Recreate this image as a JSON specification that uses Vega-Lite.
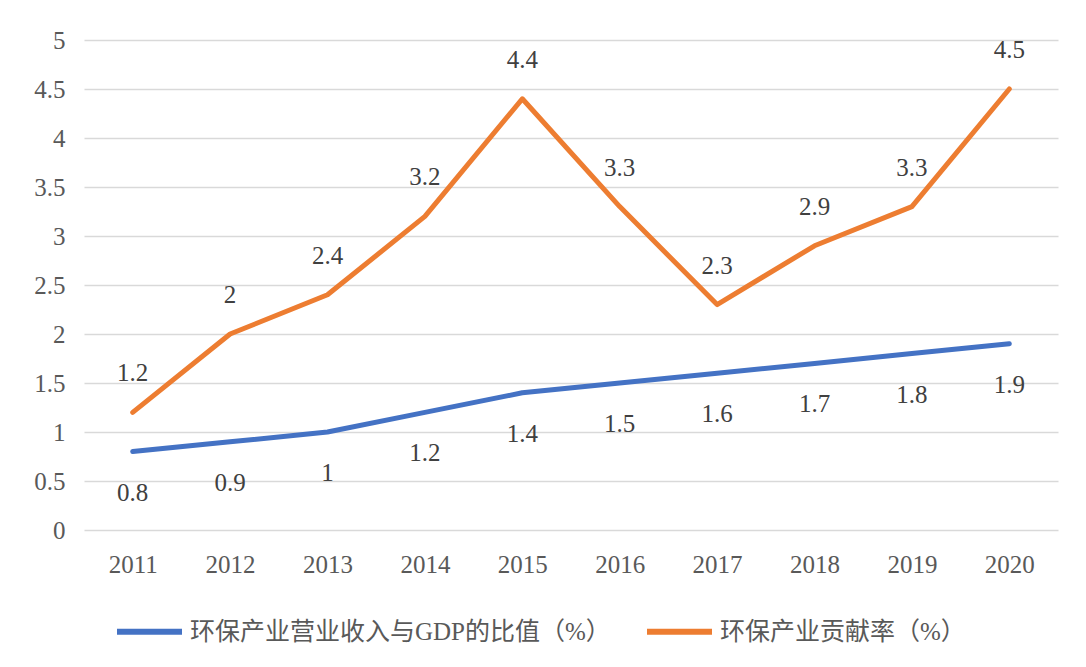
{
  "$schema": "https://vega.github.io/schema/vega-lite/v6.json",
  "width": 974,
  "height": 490,
  "autosize": {"type": "none"},
  "padding": {"left": 84, "top": 40, "right": 28, "bottom": 137},
  "background": "white",
  "config": {
    "view": {"stroke": null},
    "font": "'Liberation Serif', 'Times New Roman', serif",
    "axis": {"labelColor": "#595959", "labelFont": "'Liberation Serif', 'Times New Roman', serif", "labelFontSize": 25, "gridColor": "#D9D9D9", "gridWidth": 1.5, "ticks": false, "domain": false, "title": null}
  },
  "data": {
    "values": [
      {"year": "2011", "series": "环保产业营业收入与GDP的比值（%）", "value": 0.8},
      {"year": "2012", "series": "环保产业营业收入与GDP的比值（%）", "value": 0.9},
      {"year": "2013", "series": "环保产业营业收入与GDP的比值（%）", "value": 1.0},
      {"year": "2014", "series": "环保产业营业收入与GDP的比值（%）", "value": 1.2},
      {"year": "2015", "series": "环保产业营业收入与GDP的比值（%）", "value": 1.4},
      {"year": "2016", "series": "环保产业营业收入与GDP的比值（%）", "value": 1.5},
      {"year": "2017", "series": "环保产业营业收入与GDP的比值（%）", "value": 1.6},
      {"year": "2018", "series": "环保产业营业收入与GDP的比值（%）", "value": 1.7},
      {"year": "2019", "series": "环保产业营业收入与GDP的比值（%）", "value": 1.8},
      {"year": "2020", "series": "环保产业营业收入与GDP的比值（%）", "value": 1.9},
      {"year": "2011", "series": "环保产业贡献率（%）", "value": 1.2},
      {"year": "2012", "series": "环保产业贡献率（%）", "value": 2.0},
      {"year": "2013", "series": "环保产业贡献率（%）", "value": 2.4},
      {"year": "2014", "series": "环保产业贡献率（%）", "value": 3.2},
      {"year": "2015", "series": "环保产业贡献率（%）", "value": 4.4},
      {"year": "2016", "series": "环保产业贡献率（%）", "value": 3.3},
      {"year": "2017", "series": "环保产业贡献率（%）", "value": 2.3},
      {"year": "2018", "series": "环保产业贡献率（%）", "value": 2.9},
      {"year": "2019", "series": "环保产业贡献率（%）", "value": 3.3},
      {"year": "2020", "series": "环保产业贡献率（%）", "value": 4.5}
    ]
  },
  "encoding": {
    "x": {"field": "year", "type": "ordinal", "scale": {"type": "point", "padding": 0.5},
      "axis": {"labelAngle": 0, "labelPadding": 22, "grid": false}},
    "y": {"field": "value", "type": "quantitative", "scale": {"domain": [0, 5], "nice": false},
      "axis": {"values": [0, 0.5, 1, 1.5, 2, 2.5, 3, 3.5, 4, 4.5, 5], "format": "~g", "labelPadding": 19, "grid": true}}
  },
  "layer": [
    {
      "mark": {"type": "line", "strokeWidth": 5, "strokeCap": "round", "strokeJoin": "round"},
      "encoding": {
        "color": {"field": "series", "type": "nominal",
          "scale": {"domain": ["环保产业营业收入与GDP的比值（%）", "环保产业贡献率（%）"], "range": ["#4472C4", "#ED7D31"]},
          "legend": {"orient": "none", "legendX": 30, "legendY": 556, "direction": "horizontal", "title": null, "symbolType": "stroke", "symbolSize": 4225, "symbolStrokeWidth": 6, "labelFont": "'Liberation Serif', 'Noto Sans CJK SC', serif", "labelFontSize": 25, "labelColor": "#595959", "columnPadding": 24, "labelOffset": 5, "labelLimit": 700}
        }
      }
    },
    {
      "transform": [{"filter": "datum.series == '环保产业贡献率（%）'"}],
      "mark": {"type": "text", "dy": -39, "fontSize": 25, "color": "#404040"},
      "encoding": {"text": {"field": "value", "type": "quantitative", "format": "~g"}}
    },
    {
      "transform": [{"filter": "datum.series == '环保产业营业收入与GDP的比值（%）'"}],
      "mark": {"type": "text", "dy": 41, "fontSize": 25, "color": "#404040"},
      "encoding": {"text": {"field": "value", "type": "quantitative", "format": "~g"}}
    }
  ]
}
